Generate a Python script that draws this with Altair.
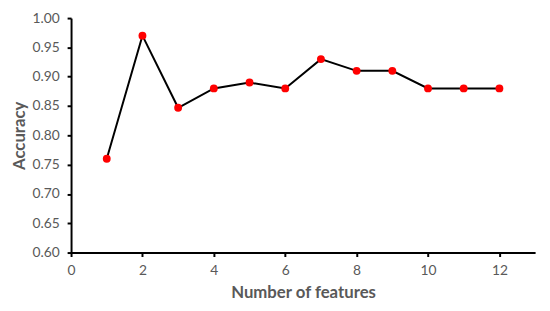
import altair as alt
import pandas as pd

features = [1, 2, 3, 4, 5, 6, 7, 8, 9, 10, 11, 12]
accuracy = [0.76, 0.97, 0.847, 0.88, 0.89, 0.88, 0.93, 0.91, 0.91, 0.88, 0.88, 0.88]
x_ticks = [0, 2, 4, 6, 8, 10, 12]
y_ticks = [0.60, 0.65, 0.70, 0.75, 0.80, 0.85, 0.90, 0.95, 1.00]

df = pd.DataFrame({"features": features, "accuracy": accuracy})

FONT = "Lato"
GRAY = "#595959"

x = alt.X("features:Q", scale=alt.Scale(domain=[0, 13], nice=False),
          axis=alt.Axis(values=x_ticks, title="Number of features", grid=False,
                        format="d", labelFlush=False))
y = alt.Y("accuracy:Q", scale=alt.Scale(domain=[0.6, 1.0], nice=False, zero=False),
          axis=alt.Axis(values=y_ticks, title="Accuracy", grid=False, format=".2f"))

line = alt.Chart(df).mark_line(color="black", strokeWidth=2).encode(x=x, y=y)
pts = alt.Chart(df).mark_circle(color="#ff0000", opacity=1, size=64).encode(x=x, y=y)

chart = (line + pts).properties(
    width=471, height=238,
    autosize=alt.AutoSizeParams(type="none"),
    padding={"left": 64, "top": 8, "right": 7, "bottom": 52},
).configure_view(stroke=None).configure_axis(
    domainColor="black", domainWidth=2, tickColor="black", tickWidth=2, tickSize=4,
    labelFont=FONT, labelFontSize=14, labelColor=GRAY,
    titleFont=FONT, titleFontSize=17, titleColor=GRAY, titleFontWeight="bold",
).configure_axisX(labelPadding=7, titlePadding=8).configure_axisY(labelPadding=8, titlePadding=4)

chart.save("out.html", embed_options={"renderer": "svg", "actions": False})
